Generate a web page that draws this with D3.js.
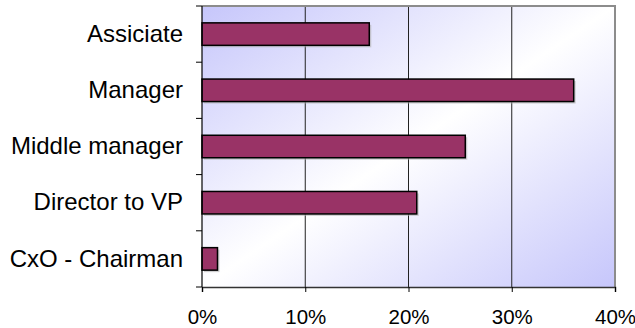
<!DOCTYPE html>
<html>
<head>
<meta charset="utf-8">
<script src="https://cdn.jsdelivr.net/npm/d3@7"></script>
<style>
  html, body { margin: 0; padding: 0; background: #fff; }
  svg { display: block; }
  text { font-family: "Liberation Sans", Arial, sans-serif; fill: #000; }
</style>
</head>
<body>
<svg id="chart" width="635" height="328"></svg>
<script>
// Share of respondents by position
const categories = ["Assiciate", "Manager", "Middle manager", "Director to VP", "CxO - Chairman"];
const shares = [0.162, 0.36, 0.255, 0.208, 0.015];
const xTicks = [0, 0.1, 0.2, 0.3, 0.4];

const svg = d3.select("#chart");
const plotL = 202, plotR = 615, plotT = 6, plotB = 287;

const x = d3.scaleLinear().domain([0, 0.4]).range([plotL, plotR]);
const y = d3.scaleBand().domain(categories).range([plotT, plotB])
  .paddingInner(0.6).paddingOuter(0.3);

// Diagonal blue-white-blue plot background
const defs = svg.append("defs");
const grad = defs.append("linearGradient").attr("id", "bg")
  .attr("x1", 0).attr("y1", 0).attr("x2", 1).attr("y2", 1);
grad.append("stop").attr("offset", "0%").attr("stop-color", "#c6c6fb");
grad.append("stop").attr("offset", "50%").attr("stop-color", "#ffffff");
grad.append("stop").attr("offset", "100%").attr("stop-color", "#c6c6fb");

svg.append("rect")
  .attr("x", plotL).attr("y", plotT)
  .attr("width", plotR - plotL).attr("height", plotB - plotT)
  .attr("fill", "url(#bg)");

// Vertical gridlines
svg.append("g").selectAll("line")
  .data(xTicks.slice(1, -1))
  .join("line")
  .attr("x1", d => x(d)).attr("x2", d => x(d))
  .attr("y1", plotT).attr("y2", plotB)
  .attr("stroke", "#222").attr("stroke-width", 1);

// Plot frame (top and right)
svg.append("path")
  .attr("d", `M${plotL},${plotT}H${plotR}V${plotB}`)
  .attr("fill", "none").attr("stroke", "#8c8c8c").attr("stroke-width", 2);

// Bar shadows
svg.append("g").selectAll("rect")
  .data(categories)
  .join("rect")
  .attr("x", x(0) + 2)
  .attr("y", d => y(d) + 2)
  .attr("width", (d, i) => x(shares[i]) - x(0))
  .attr("height", y.bandwidth())
  .attr("fill", "#b0b0b0").attr("opacity", 0.6);

// Bars
svg.append("g").selectAll("rect")
  .data(categories)
  .join("rect")
  .attr("x", x(0))
  .attr("y", d => y(d))
  .attr("width", (d, i) => x(shares[i]) - x(0))
  .attr("height", y.bandwidth())
  .attr("fill", "#993366")
  .attr("stroke", "#000").attr("stroke-width", 1.5);

// Category axis
const yAxis = d3.axisLeft(y).tickSize(0).tickPadding(19);
const gy = svg.append("g").attr("transform", `translate(${plotL},0)`).call(yAxis);
gy.select(".domain").remove();
gy.selectAll("text").style("font-size", "24px")
  .style("font-family", "'Liberation Sans', Arial, sans-serif");

// Category tick marks sit on band boundaries
const bounds = categories.map(c => y(c) - y.step() * y.paddingInner() / 2);
bounds.push(plotB);
bounds[0] = plotT;
svg.append("g").selectAll("line")
  .data(bounds)
  .join("line")
  .attr("x1", plotL - 6).attr("x2", plotL)
  .attr("y1", d => d).attr("y2", d => d)
  .attr("stroke", "#000").attr("stroke-width", 1);

svg.append("line")
  .attr("x1", plotL).attr("x2", plotL).attr("y1", plotT).attr("y2", plotB)
  .attr("stroke", "#000").attr("stroke-width", 1.2);

// Value axis
const xAxis = d3.axisBottom(x).tickValues(xTicks)
  .tickFormat(d3.format(".0%")).tickSize(5).tickPadding(17);
const gx = svg.append("g").attr("transform", `translate(0,${plotB})`).call(xAxis);
gx.select(".domain").attr("stroke", "#333").attr("stroke-width", 1.5);
gx.selectAll(".tick line").attr("stroke", "#000");
gx.selectAll("text").style("font-size", "20.5px")
  .style("font-family", "'Liberation Sans', Arial, sans-serif");
</script>
</body>
</html>
